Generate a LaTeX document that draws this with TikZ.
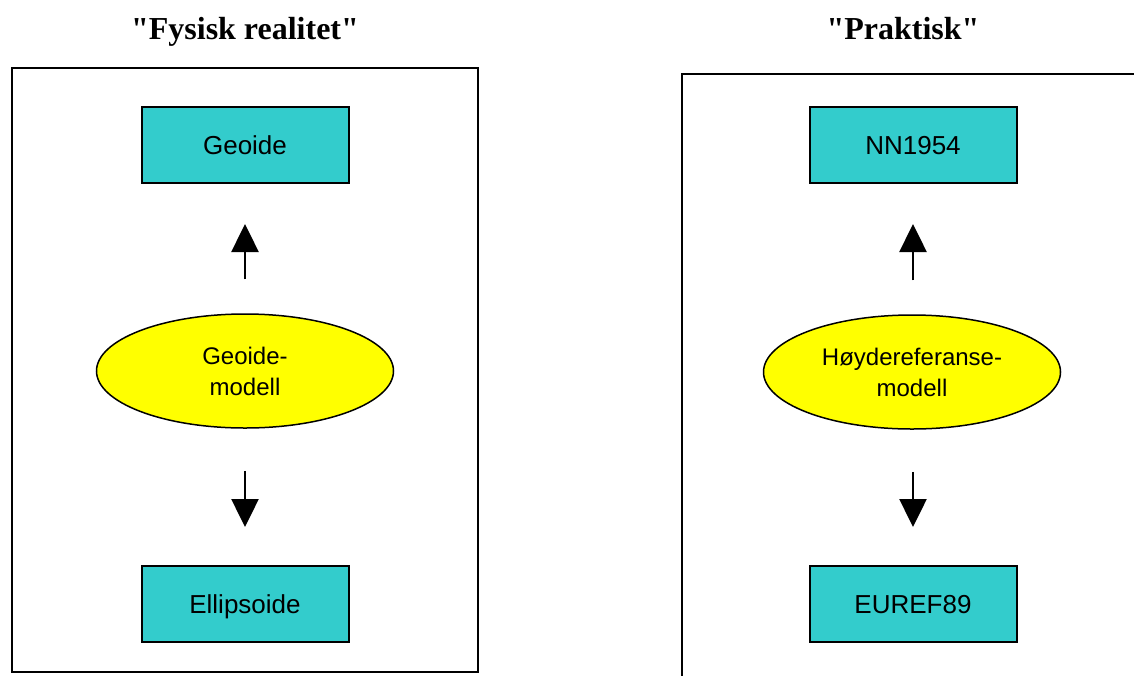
\documentclass[tikz,border=0pt]{standalone}
\usepackage{fontspec}
\setmainfont{Liberation Sans}
\newfontfamily\titlefont{Liberation Serif}
\usetikzlibrary{shapes.geometric,arrows.meta}
\definecolor{boxteal}{HTML}{33CCCC}
\definecolor{ellyellow}{HTML}{FFFF00}
\begin{document}
\begin{tikzpicture}[x=1pt,y=-1pt,
  databox/.style={draw=black, line width=2pt, fill=boxteal, minimum width=207pt, minimum height=76pt, inner sep=0pt, font=\fontsize{26}{30}\selectfont, text height=18.6pt, text depth=0pt},
  model/.style={ellipse, draw=black, line width=1.5pt, fill=ellyellow, minimum width=297pt, minimum height=114pt, inner sep=0pt, align=center, font=\fontsize{24}{31}\selectfont},
  arr/.style={line width=2.5pt, -{Triangle[width=27pt,length=28pt]}},
  frame/.style={draw=black, line width=2.5pt},
  heading/.style={font=\titlefont\bfseries\fontsize{32}{36}\selectfont, anchor=base}
]
\useasboundingbox (0,0) rectangle (1134,675);
% headings
\node[heading] (t1) at (245,39) {"Fysisk realitet"};
\node[heading] (t2) at (903,39) {"Praktisk"};
% frames
\coordinate (lfa) at (12,68);
\coordinate (lfb) at (478,672);
\draw[frame] (lfa) rectangle (lfb);
\coordinate (rfa) at (682,680);
\coordinate (rfb) at (682,74);
\coordinate (rfc) at (1140,74);
\draw[frame] (rfa) -- (rfb) -- (rfc);
% left column
\node[databox] (geo) at (245,145) {Geoide};
\node[model] (gm) at (245,371) {Geoide-\\modell};
\node[databox] (ell) at (245,604) {Ellipsoide};
\draw[arr, shorten <=34pt, shorten >=40pt] (gm.north) -- (geo.south);
\draw[arr, shorten <=42pt, shorten >=38pt] (gm.south) -- (ell.north);
% right column
\node[databox] (nn) at (913,145) {NN1954};
\node[model] (hm) at (912,372) {Høydereferanse-\\modell};
\node[databox] (eu) at (913,604) {EUREF89};
\draw[arr, shorten <=34pt, shorten >=40pt] (hm.north -| nn.south) -- (nn.south);
\draw[arr, shorten <=42pt, shorten >=38pt] (hm.south -| eu.north) -- (eu.north);
\end{tikzpicture}
\end{document}
